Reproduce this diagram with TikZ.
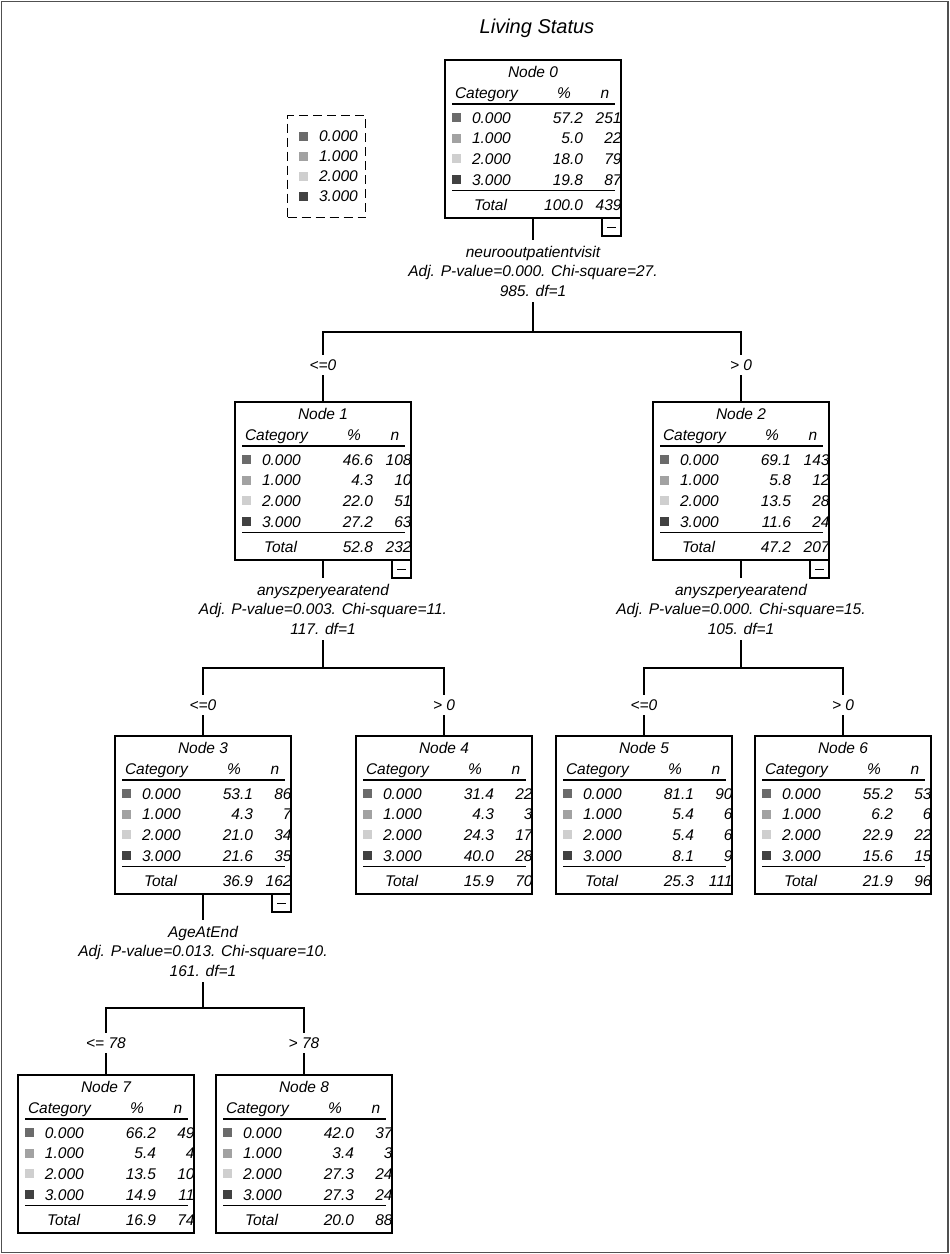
\documentclass[tikz,border=0pt]{standalone}
\usepackage{fontspec}
\setmainfont{Liberation Sans}
\usetikzlibrary{calc}
\definecolor{cat1}{HTML}{6B6B6B}
\definecolor{cat2}{HTML}{A2A2A2}
\definecolor{cat3}{HTML}{CFCFCF}
\definecolor{cat4}{HTML}{414141}
\definecolor{framegray}{HTML}{505050}
\tikzset{
  txt/.style={font=\fontsize{15.5}{19.5}\selectfont\itshape, inner sep=0pt, outer sep=0pt},
  nodebox/.style={draw=black, line width=1.3pt, minimum width=176pt, minimum height=158pt, inner sep=0pt, outer sep=0pt},
  catsq/.style={minimum size=9pt, inner sep=0pt, outer sep=0pt},
  minusbox/.style={draw=black, line width=1.2pt, minimum width=19pt, minimum height=18pt, inner sep=0pt, outer sep=0pt},
  split/.style={txt, align=center, inner ysep=6pt},
  lbl/.style={txt, inner xsep=2pt, inner ysep=5pt},
  conn/.style={line width=1.2pt, black},
  rule/.style={line width=1.3pt, black},
}
\newcommand\ctnode[7]{%
  \node[nodebox, anchor=north west] (#1) at (#2,#3) {};
  \node[txt, anchor=base] (#1-t) at ($(#1.north)+(0,17.5)$) {Node #4};
  \node[txt, anchor=base west] (#1-hc) at ($(#1.north west)+(10,38.5)$) {Category};
  \node[txt, anchor=base] (#1-hp) at ($(#1.north west)+(119,38.5)$) {\%};
  \node[txt, anchor=base] (#1-hn) at ($(#1.north west)+(160,38.5)$) {n};
  \draw[rule] ($(#1.north west)+(7,44)$) -- ($(#1.north west)+(170,44)$);
  \foreach \pv/\nv [count=\i] in {#5} {
    \pgfmathsetmacro\yb{63+(\i-1)*20.67}
    \pgfmathsetmacro\yc{\yb-5.5}
    \pgfmathtruncatemacro\ci{\i-1}
    \node[catsq, fill=cat\i] (#1-s\i) at ($(#1.north west)+(11,\yc)$) {};
    \node[txt, anchor=base west] (#1-c\i) at ($(#1.north west)+(27,\yb)$) {\ci.000};
    \node[txt, anchor=base east] (#1-p\i) at ($(#1.north west)+(138,\yb)$) {\pv};
    \node[txt, anchor=base east] (#1-n\i) at ($(#1.north west)+(176.5,\yb)$) {\nv};
  }
  \draw[rule] ($(#1.north west)+(7,130.5)$) -- ($(#1.north west)+(170,130.5)$);
  \node[txt, anchor=base west] (#1-tt) at ($(#1.north west)+(29,150)$) {Total};
  \node[txt, anchor=base east] (#1-tp) at ($(#1.north west)+(138,150)$) {#6};
  \node[txt, anchor=base east] (#1-tn) at ($(#1.north west)+(176.5,150)$) {#7};
}
\newcommand\minusmark[1]{%
  \node[minusbox, anchor=north east] (#1-m) at (#1.south east) {};
  \draw[line width=1pt] ($(#1-m.center)+(-4.5,0)$) -- ($(#1-m.center)+(4.5,0)$);
}
\begin{document}
\begin{tikzpicture}[x=1pt, y=-1pt]
\useasboundingbox (0,0) rectangle (950,1254);
\fill[white] (0,0) rectangle (950,1254);
\draw[line width=1.6pt, framegray] (1.5,1.5) rectangle (948,1252.5);

\node[txt, font=\fontsize{20}{24}\selectfont\itshape, anchor=base] (title) at (537,33) {Living Status};

% legend
\node[draw=black, line width=1.3pt, dash pattern=on 9pt off 5pt, anchor=north west, minimum width=78pt, minimum height=102pt, inner sep=0pt] (leg) at (287,115) {};
\foreach \ci [count=\i] in {0,1,2,3} {
  \pgfmathsetmacro\yc{136+(\i-1)*20}
  \pgfmathsetmacro\yb{\yc+5.5}
  \node[catsq, fill=cat\i] (leg-s\i) at (303,\yc) {};
  \node[txt, anchor=base west] (leg-t\i) at (319,\yb) {\ci.000};
}

% nodes
\ctnode{n0}{445}{60}{0}{57.2/251,5.0/22,18.0/79,19.8/87}{100.0}{439}
\ctnode{n1}{235}{402}{1}{46.6/108,4.3/10,22.0/51,27.2/63}{52.8}{232}
\ctnode{n2}{653}{402}{2}{69.1/143,5.8/12,13.5/28,11.6/24}{47.2}{207}
\ctnode{n3}{115}{736}{3}{53.1/86,4.3/7,21.0/34,21.6/35}{36.9}{162}
\ctnode{n4}{356}{736}{4}{31.4/22,4.3/3,24.3/17,40.0/28}{15.9}{70}
\ctnode{n5}{556}{736}{5}{81.1/90,5.4/6,5.4/6,8.1/9}{25.3}{111}
\ctnode{n6}{755}{736}{6}{55.2/53,6.2/6,22.9/22,15.6/15}{21.9}{96}
\ctnode{n7}{18}{1075}{7}{66.2/49,5.4/4,13.5/10,14.9/11}{16.9}{74}
\ctnode{n8}{216}{1075}{8}{42.0/37,3.4/3,27.3/24,27.3/24}{20.0}{88}
\minusmark{n0}
\minusmark{n1}
\minusmark{n2}
\minusmark{n3}

% split 0
\node[split, anchor=north] (s0) at (533,240) {neurooutpatientvisit\\Adj. P-value=0.000. Chi-square=27.\\985. df=1};
\coordinate (h0) at (533,332);
\draw[conn] (n0.south) -- (s0.north);
\draw[conn] (s0.south) -- (h0);
\node[lbl] (l1) at (323,365) {<=0};
\node[lbl] (l2) at (741,365) {> 0};
\draw[conn] (h0) -| (l1.north);
\draw[conn] (h0) -| (l2.north);
\draw[conn] (l1.south) -- (n1.north);
\draw[conn] (l2.south) -- (n2.north);

% split 1
\node[split, anchor=north] (s1) at (323,578) {anyszperyearatend\\Adj. P-value=0.003. Chi-square=11.\\117. df=1};
\coordinate (h1) at (323,668);
\draw[conn] (n1.south) -- (s1.north);
\draw[conn] (s1.south) -- (h1);
\node[lbl] (l3) at (203,705) {<=0};
\node[lbl] (l4) at (444,705) {> 0};
\draw[conn] (h1) -| (l3.north);
\draw[conn] (h1) -| (l4.north);
\draw[conn] (l3.south) -- (n3.north);
\draw[conn] (l4.south) -- (n4.north);

% split 2
\node[split, anchor=north] (s2) at (741,578) {anyszperyearatend\\Adj. P-value=0.000. Chi-square=15.\\105. df=1};
\coordinate (h2) at (741,668);
\draw[conn] (n2.south) -- (s2.north);
\draw[conn] (s2.south) -- (h2);
\node[lbl] (l5) at (644,705) {<=0};
\node[lbl] (l6) at (843,705) {> 0};
\draw[conn] (h2) -| (l5.north);
\draw[conn] (h2) -| (l6.north);
\draw[conn] (l5.south) -- (n5.north);
\draw[conn] (l6.south) -- (n6.north);

% split 3
\node[split, anchor=north] (s3) at (203,920) {AgeAtEnd\\Adj. P-value=0.013. Chi-square=10.\\161. df=1};
\coordinate (h3) at (203,1008);
\draw[conn] (n3.south) -- (s3.north);
\draw[conn] (s3.south) -- (h3);
\node[lbl] (l7) at (106,1043) {<= 78};
\node[lbl] (l8) at (304,1043) {> 78};
\draw[conn] (h3) -| (l7.north);
\draw[conn] (h3) -| (l8.north);
\draw[conn] (l7.south) -- (n7.north);
\draw[conn] (l8.south) -- (n8.north);
\end{tikzpicture}
\end{document}
